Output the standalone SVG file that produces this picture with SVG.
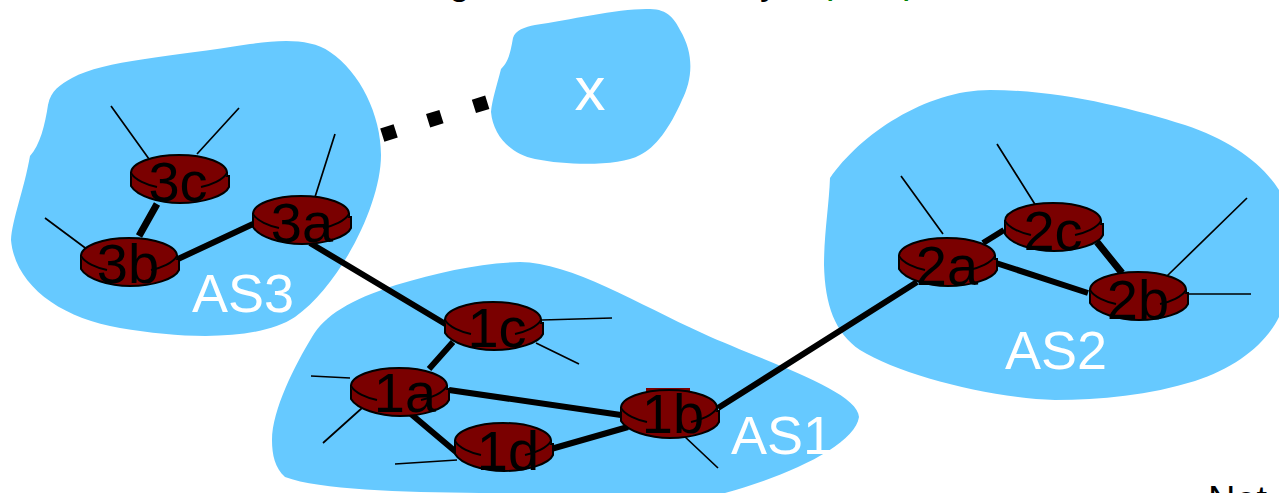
<svg xmlns="http://www.w3.org/2000/svg" width="1279" height="493" viewBox="0 0 1279 493">
<style>
.as{fill:#66c9ff;stroke:none}
.lbl{font-family:"Liberation Sans",Arial,sans-serif;font-size:54px;fill:#fff;text-anchor:middle}
.rl{font-family:"Liberation Sans",Arial,sans-serif;font-size:56px;fill:#000;text-anchor:middle}
.cut{font-family:"Liberation Sans",Arial,sans-serif;font-size:38px;fill:#000}
.green{fill:#008000}
.thin{stroke:#000;stroke-width:1.7;fill:none}
.thick{stroke:#000;stroke-width:6;fill:none}
.thicker{stroke:#000;stroke-width:7;fill:none}
.body{fill:#7a0000;stroke:#000;stroke-width:2}
.top{fill:none;stroke:#000;stroke-width:2}
</style>
<defs>
<g id="router">
<path class="body" d="M-48 0V13C-42 23 -20 30 1 30C24 30 46 23 50 14V3L48 3V0Z"/>
<ellipse cx="0" cy="0" rx="48" ry="18" fill="#7a0000"/>
<path class="top" d="M-48 0A48 18 0 0 1 48 0M-48 0C-44 7 -32 12 -22 14M22 14C32 12 44 7 48 0"/>
</g>
</defs>
<g id="clouds">
<path id="as3" class="as" d="M30 156C40 145 45 125 48 105C51 90 60 85 72 78C105 60 170 57 250 44C280 40 310 38 330 52C360 72 381 115 381 155C381 205 340 285 295 317C260 340 190 340 120 328C60 318 15 285 11 240C12 220 24 190 30 156Z"/>
<path id="x" class="as" d="M501 69C508 62 510 55 513 38C515 30 525 27 535 25C570 20 620 8 650 9C668 9 675 20 680 30C695 55 692 80 682 100C670 128 655 148 640 155C620 166 570 166 535 159C510 154 493 135 491 112C492 100 497 85 501 69Z"/>
<path id="as1" class="as" d="M272 440C272 410 295 365 312 337C325 315 350 300 396 285C440 272 480 263 520 262C570 262 640 305 702 333C760 360 858 390 859 417C855 445 790 475 725 493L480 493C400 492 320 490 285 477C275 468 272 455 272 440Z"/>
<path id="as2" class="as" d="M830 178C860 135 925 90 990 90C1060 90 1130 108 1185 125C1230 140 1262 163 1279 190V317C1265 345 1235 368 1195 381C1150 395 1100 400 1055 400C990 398 900 375 860 350C835 333 825 305 824 265C824 235 829 205 830 178Z"/>
</g>
<g id="connectors">
<path class="thin" d="M111 106L149 159M239 108L197 154M45 218L88 250M335 134L315 197M901 176L943 234M997 144L1036 206M1247 198L1167 276M1186 294H1251M542 320L612 318M536 343L579 364M311 376L350 378M362 408L323 443M457 460L395 464M683 435L718 468"/>
<path class="thick" d="M178 259L253 224M310 243L447 325M453 342L429 369M449 390L621 415M411 414L456 452M551 449L628 427M718 408L917 282M983 243L1004 230M996 263L1088 293"/>
<path class="thicker" d="M157 204L139 236M1097 242L1122 273"/>
<path stroke="#000" stroke-width="14" stroke-dasharray="14 34" fill="none" d="M382.3 135.1L488 102"/>
</g>
<g id="r3c"><use href="#router" x="179" y="173"/><text class="rl" x="178" y="201">3c</text></g>
<g id="r3a"><use href="#router" x="301" y="214"/><text class="rl" x="302" y="242">3a</text></g>
<g id="r3b"><use href="#router" x="129" y="256"/><text class="rl" x="128" y="283">3b</text></g>
<g id="r1c"><use href="#router" x="493" y="320"/><text class="rl" x="497" y="347">1c</text></g>
<g id="r1a"><use href="#router" x="399" y="386"/><text class="rl" x="405" y="412">1a</text></g>
<g id="r1b"><rect x="646" y="388" width="44" height="8" fill="#7a0000"/><use href="#router" x="669" y="408"/><text class="rl" x="673" y="433">1b</text></g>
<g id="r1d"><use href="#router" x="503" y="441"/><text class="rl" x="508" y="470">1d</text></g>
<g id="r2a"><use href="#router" x="947" y="256"/><text class="rl" x="947" y="285">2a</text></g>
<g id="r2c"><use href="#router" x="1053" y="221"/><text class="rl" x="1053" y="250">2c</text></g>
<g id="r2b"><use href="#router" x="1138" y="290"/><text class="rl" x="1138" y="319">2b</text></g>
<text class="lbl" x="243" y="312">AS3</text>
<text class="lbl" x="590" y="110" style="font-size:62px">x</text>
<text class="lbl" x="782" y="454">AS1</text>
<text class="lbl" x="1056" y="369">AS2</text>
<text class="cut" x="449" y="-6">g</text>
<text class="cut" x="760" y="-6">y</text>
<text class="cut green" x="826" y="-7">p</text>
<text class="cut green" x="902" y="-7">p</text>
<text class="cut" x="1208" y="513">Net</text>
</svg>
